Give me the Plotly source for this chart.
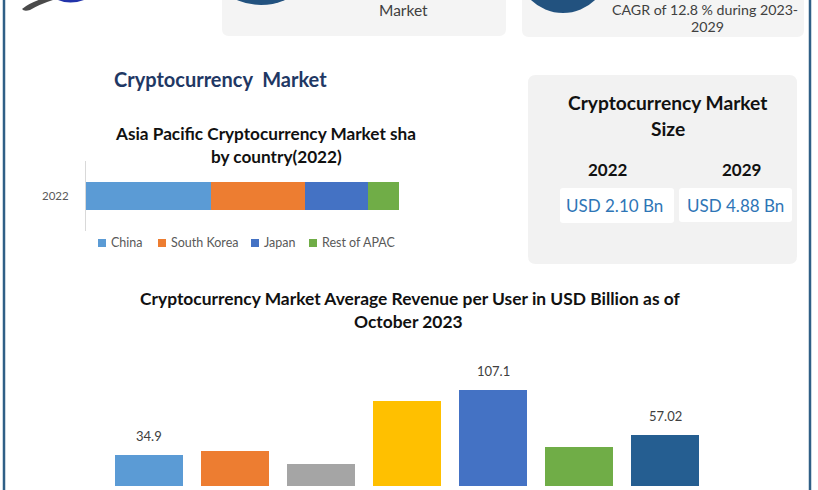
import plotly.graph_objects as go

W, H = 818, 490

# ---------------- data ----------------
apac_year = ["2022"]
apac_countries = ["China", "South Korea", "Japan", "Rest of APAC"]
apac_shares = [40, 30, 20, 10]
apac_colors = ["#5B9BD5", "#ED7D31", "#4472C4", "#70AD47"]

arpu_categories = ["Category 1", "Category 2", "Category 3", "Category 4",
                   "Category 5", "Category 6", "Category 7"]
arpu_values = [34.9, 38.9, 24.1, 94.5, 107.1, 43.4, 57.02]
arpu_labels_shown = [True, False, False, False, True, False, True]
arpu_colors = ["#5B9BD5", "#ED7D31", "#A5A5A5", "#FFC000", "#4472C4", "#70AD47", "#255E91"]

market_years = ["2022", "2029"]
market_sizes = ["USD 2.10 Bn", "USD 4.88 Bn"]


def X(px):
    return px / W


def Y(py):
    return 1 - py / H


FONT = "Lato, 'Open Sans', sans-serif"

fig = go.Figure()

# stacked horizontal bar (Asia Pacific share)
for name, val, col in zip(apac_countries, apac_shares, apac_colors):
    fig.add_trace(go.Bar(
        y=apac_year, x=[val], name=name, orientation="h",
        marker=dict(color=col, line=dict(width=0)),
        xaxis="x", yaxis="y", showlegend=False, hoverinfo="x+name",
    ))

# ARPU bar chart
fig.add_trace(go.Bar(
    x=arpu_categories, y=arpu_values,
    marker=dict(color=arpu_colors, line=dict(width=0)),
    xaxis="x2", yaxis="y2", showlegend=False,
))

# axis geometry (pixels)
bar_top_px, bar_bot_px = 330, 486
px_per_unit = 0.899
y2_max = (bar_bot_px - bar_top_px) / px_per_unit

shapes = []
annotations = []

# ---- border lines ----
for bx in (4, 810):
    shapes.append(dict(type="line", xref="paper", yref="paper", x0=X(bx), x1=X(bx),
                       y0=0, y1=1, line=dict(color="#2F5F86", width=2.5)))


def rrect(x0, y0, x1, y1, r, fill):
    p = (f"M {X(x0 + r)},{Y(y0)} L {X(x1 - r)},{Y(y0)} Q {X(x1)},{Y(y0)} {X(x1)},{Y(y0 + r)} "
         f"L {X(x1)},{Y(y1 - r)} Q {X(x1)},{Y(y1)} {X(x1 - r)},{Y(y1)} "
         f"L {X(x0 + r)},{Y(y1)} Q {X(x0)},{Y(y1)} {X(x0)},{Y(y1 - r)} "
         f"L {X(x0)},{Y(y0 + r)} Q {X(x0)},{Y(y0)} {X(x0 + r)},{Y(y0)} Z")
    return dict(type="path", xref="paper", yref="paper", path=p,
                fillcolor=fill, line=dict(width=0), layer="below")


# top cards
shapes.append(rrect(222, -20, 506, 36, 7, "#F4F4F4"))
shapes.append(rrect(522, -20, 804, 37, 7, "#F4F4F4"))
# circles on top cards
for cx, cy, r in ((261, -55, 60), (563, -33, 46)):
    shapes.append(dict(type="circle", xref="paper", yref="paper",
                       x0=X(cx - r), x1=X(cx + r), y0=Y(cy + r), y1=Y(cy - r),
                       fillcolor="#22527F", line=dict(width=0)))

# right card
shapes.append(rrect(528, 75, 797, 264, 8, "#F2F2F2"))
shapes.append(rrect(560, 188, 674, 223, 3, "#FFFFFF"))
shapes.append(rrect(679, 188, 792, 222, 3, "#FFFFFF"))

# logo swoosh
shapes.append(dict(type="path", xref="paper", yref="paper",
                   path=(f"M {X(22)},{Y(9)} Q {X(40)},{Y(-6)} {X(88)},{Y(-8)} "
                         f"Q {X(50)},{Y(-2)} {X(30)},{Y(10)} Q {X(24)},{Y(12)} {X(22)},{Y(9)} Z"),
                   fillcolor="#4A4A4A", line=dict(width=0)))
shapes.append(dict(type="path", xref="paper", yref="paper",
                   path=(f"M {X(58)},{Y(0)} Q {X(70)},{Y(5)} {X(84)},{Y(0)} Z"),
                   fillcolor="#2233AA", line=dict(width=0)))

annotations.append(dict(text="<b>MMR</b>", xref="paper", yref="paper", x=X(129), y=Y(5),
                        xanchor="center", yanchor="bottom", showarrow=False,
                        font=dict(family="'Liberation Serif', serif", size=30, color="#1A22C8")))


def text(t, x, y, size, color, bold=False, anchor="center", family=FONT):
    annotations.append(dict(text=f"<b>{t}</b>" if bold else t, xref="paper", yref="paper",
                            x=X(x), y=Y(y), xanchor=anchor, yanchor="middle",
                            showarrow=False, font=dict(family=family, size=size, color=color)))


text("Market", 403, 9.5, 15.5, "#404040")
text("CAGR of 12.8 % during 2023-", 705, 9.5, 14.2, "#404040")
text("2029", 707, 27, 14.2, "#404040")

text("Cryptocurrency  Market", 220, 79, 20, "#1F3864", bold=True)
text("Asia Pacific Cryptocurrency Market sha", 113, 134, 17.2, "#111111", bold=True, anchor="left")
text("by country(2022)", 276, 156, 17.2, "#111111", bold=True)

text("Cryptocurrency Market", 668, 103, 19.2, "#111111", bold=True)
text("Size", 668, 128, 19.2, "#111111", bold=True)
for yr, cx in zip(market_years, (608, 741)):
    text(yr, cx, 170, 17, "#111111", bold=True)
for val, cx in zip(market_sizes, (614, 735)):
    text(val, cx, 205, 17, "#2E75B6")

text("Cryptocurrency Market Average Revenue per User in USD Billion as of", 410, 298, 17.4, "#111111", bold=True)
text("October 2023", 408, 321, 17.4, "#111111", bold=True)

# manual legend for stacked bar
legend_sq_x = [98, 158, 251, 309]
for name, col, lx in zip(apac_countries, apac_colors, legend_sq_x):
    shapes.append(dict(type="rect", xref="paper", yref="paper",
                       x0=X(lx), x1=X(lx + 8), y0=Y(247), y1=Y(239),
                       fillcolor=col, line=dict(width=0)))
    text(name, lx + 11, 243, 12.5, "#595959", anchor="left")

# value labels on the ARPU bars
for cat, val, show in zip(arpu_categories, arpu_values, arpu_labels_shown):
    if show:
        annotations.append(dict(text=f"{val:g}", xref="x2", yref="y2", x=cat, y=val,
                                yanchor="bottom", yshift=9, showarrow=False,
                                font=dict(family=FONT, size=13, color="#404040")))

fig.update_layout(
    width=W, height=H,
    margin=dict(l=0, r=0, t=0, b=0),
    paper_bgcolor="white", plot_bgcolor="rgba(0,0,0,0)",
    barmode="stack",
    bargap=0.21,
    font=dict(family=FONT),
    xaxis=dict(domain=[X(86), X(399)], range=[0, sum(apac_shares)], visible=False, fixedrange=True),
    yaxis=dict(domain=[Y(231), Y(161)], showline=True, linecolor="#D9D9D9", linewidth=1,
               showgrid=False, zeroline=False, ticks="", ticklabelstandoff=14,
               tickfont=dict(family=FONT, size=11.5, color="#595959"), fixedrange=True),
    xaxis2=dict(domain=[X(106), X(708)], anchor="y2", showticklabels=False, showline=False,
                showgrid=False, zeroline=False, fixedrange=True),
    yaxis2=dict(domain=[Y(bar_bot_px), Y(bar_top_px)], range=[0, y2_max], visible=False,
                fixedrange=True),
    shapes=shapes,
    annotations=annotations,
)

# bar thickness in the stacked chart: 28 px of 70 px
fig.update_traces(width=28 / 70, selector=dict(orientation="h"))

fig.write_html("out.html",
               config={"displayModeBar": False},
               post_script="document.body.style.margin='0';document.body.style.padding='0';")
